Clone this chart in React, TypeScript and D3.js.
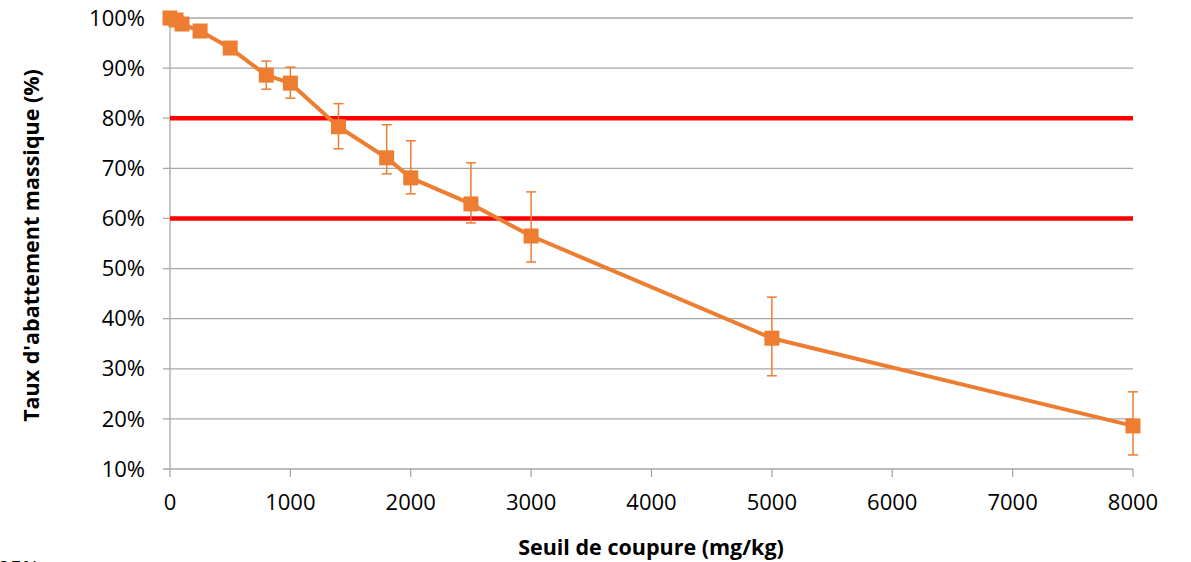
import React from "react";
import * as d3 from "d3";

// seuil de coupure (mg/kg)
const thresholds = [0, 50, 100, 250, 500, 800, 1000, 1400, 1800, 2000, 2500, 3000, 5000, 8000];
// taux d'abattement massique (%)
const rates = [100, 99.6, 98.8, 97.4, 94, 88.6, 87, 78.3, 72.1, 68.1, 62.9, 56.5, 36.1, 18.6];
const errLow = [100, 99.6, 98.8, 97.0, 92.8, 85.8, 84, 73.9, 68.9, 64.9, 59.1, 51.3, 28.6, 12.8];
const errHigh = [100, 99.6, 98.8, 97.8, 95.0, 91.4, 90.2, 82.9, 78.7, 75.5, 71.1, 65.3, 44.3, 25.4];

const limitLines = [80, 60];
const xTicks = [0, 1000, 2000, 3000, 4000, 5000, 6000, 7000, 8000];
const yTicks = [10, 20, 30, 40, 50, 60, 70, 80, 90, 100];

const W = 1191;
const H = 562;
const FONT = "'Open Sans', Calibri, sans-serif";
const ORANGE = "#ED7D31";
const GRID = "#A6A6A6";

export default function App() {
  const x = d3.scaleLinear().domain([0, 8000]).range([170, 1133]);
  const y = d3.scaleLinear().domain([10, 100]).range([469, 18]);

  const pts = thresholds.map((t, i) => ({ t, v: rates[i], lo: errLow[i], hi: errHigh[i] }));
  const line = d3
    .line<{ t: number; v: number }>()
    .x((d) => x(d.t))
    .y((d) => y(d.v));

  const sq = 15;
  const cap = 5;

  return (
    <svg width={W} height={H} style={{ position: "absolute", left: 0, top: 0 }}>
      <rect width={W} height={H} fill="#fff" />

      {/* grid + y ticks */}
      {yTicks.map((t) => (
        <g key={"y" + t}>
          <line x1={x(0) - 7} x2={x(8000)} y1={y(t)} y2={y(t)} stroke={GRID} strokeWidth={1.3} />
          <text x={145} y={y(t)} dy="0.35em" textAnchor="end" fontFamily={FONT} fontSize={22} fill="#000">
            {t}%
          </text>
        </g>
      ))}
      <line x1={x(0)} x2={x(0)} y1={y(100)} y2={y(10)} stroke={GRID} strokeWidth={1.3} />
      {xTicks.map((t) => (
        <g key={"x" + t}>
          <line x1={x(t)} x2={x(t)} y1={y(10)} y2={y(10) + 8} stroke={GRID} strokeWidth={1.3} />
          <text x={x(t)} y={502} dy="0.35em" textAnchor="middle" fontFamily={FONT} fontSize={22} fill="#000">
            {t}
          </text>
        </g>
      ))}

      {/* limit lines */}
      {limitLines.map((l) => (
        <line key={"l" + l} x1={x(0)} x2={x(8000)} y1={y(l)} y2={y(l)} stroke="#FF0000" strokeWidth={4.5} />
      ))}

      {/* error bars */}
      {pts.map((p, i) =>
        p.hi - p.lo > 0.1 ? (
          <g key={"e" + i} stroke={ORANGE} strokeWidth={1.5}>
            <line x1={x(p.t)} x2={x(p.t)} y1={y(p.hi)} y2={y(p.lo)} />
            <line x1={x(p.t) - cap} x2={x(p.t) + cap} y1={y(p.hi)} y2={y(p.hi)} />
            <line x1={x(p.t) - cap} x2={x(p.t) + cap} y1={y(p.lo)} y2={y(p.lo)} />
          </g>
        ) : null
      )}

      <path d={line(pts) || ""} fill="none" stroke={ORANGE} strokeWidth={4} strokeLinejoin="round" />
      {pts.map((p, i) => (
        <rect key={"p" + i} x={x(p.t) - sq / 2} y={y(p.v) - sq / 2} width={sq} height={sq} fill={ORANGE} />
      ))}

      {/* axis titles */}
      <text
        transform={`translate(31,${(y(100) + y(10)) / 2 + 2}) rotate(-90)`}
        textAnchor="middle"
        dy="0.35em"
        fontFamily={FONT}
        fontWeight="bold"
        fontSize={21.5}
        fill="#000"
      >
        Taux d'abattement massique (%)
      </text>
      <text x={651} y={547} dy="0.35em" textAnchor="middle" fontFamily={FONT} fontWeight="bold" fontSize={21.5} fill="#000">
        Seuil de coupure (mg/kg)
      </text>
      <text x={-2} y={577} fontFamily={FONT} fontSize={21} fill="#000">
        25%
      </text>
    </svg>
  );
}
